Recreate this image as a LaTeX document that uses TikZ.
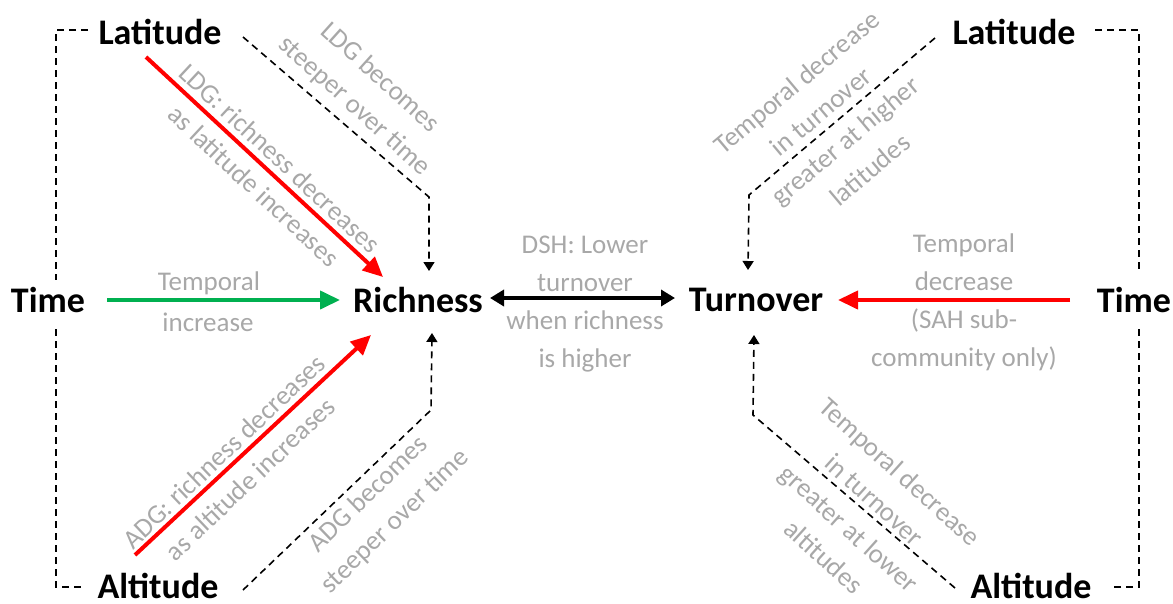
\documentclass[tikz,border=0pt]{standalone}
\usepackage{fontspec}
\setmainfont{Carlito}
\usetikzlibrary{arrows.meta}
\definecolor{lblgray}{RGB}{168,168,168}
\definecolor{arrred}{RGB}{255,0,0}
\definecolor{arrgreen}{RGB}{0,176,80}
\begin{document}
\begin{tikzpicture}[x=1pt,y=-1pt,
  lbl/.style={font=\fontsize{36}{40}\selectfont\bfseries, inner sep=0pt},
  note/.style={font=\fontsize{27}{38}\selectfont, text=lblgray, align=center, inner sep=0pt},
  redarr/.style={draw=arrred, line width=4pt, -{Triangle[length=20pt,width=18pt]}},
  greenarr/.style={draw=arrgreen, line width=4pt, -{Triangle[length=20pt,width=18pt]}},
  dblarr/.style={draw=black, line width=3.5pt, {Triangle[length=14pt,width=16pt]}-{Triangle[length=14pt,width=16pt]}},
  dasharr/.style={draw=black, line width=1.6pt, dash pattern=on 7pt off 5pt, -{Triangle[length=9pt,width=11pt]}},
  dashbr/.style={draw=black, line width=1.6pt, dash pattern=on 7pt off 5pt}
]
\useasboundingbox (0,0) rectangle (1173,603);

% main labels
\node[lbl] (latL) at (160,32) {Latitude};
\node[lbl] (timeL) at (48,300) {Time};
\node[lbl] (altL) at (158,586) {Altitude};
\node[lbl] (rich) at (418,300) {Richness};
\node[lbl] (turn) at (756,300) {Turnover};
\node[lbl] (latR) at (1014,32) {Latitude};
\node[lbl] (timeR) at (1134,300) {Time};
\node[lbl] (altR) at (1031,586) {Altitude};

% connector ends
\coordinate (lr1) at (146,57);   \coordinate (lr2) at (383,277);
\coordinate (ar1) at (135,555);  \coordinate (ar2) at (371,335);
\coordinate (tg1) at (107,300);  \coordinate (tg2) at (340,300);
\coordinate (tr1) at (1070,300); \coordinate (tr2) at (838,300);
\coordinate (d1) at (490,298);   \coordinate (d2) at (675,298);

\coordinate (la1) at (243,37);  \coordinate (la2) at (429,197); \coordinate (la3) at (429,271);
\coordinate (aa1) at (243,590); \coordinate (aa2) at (431,410); \coordinate (aa3) at (432,333);
\coordinate (lb1) at (935,38);  \coordinate (lb2) at (749,195); \coordinate (lb3) at (748,270);
\coordinate (ab1) at (955,588); \coordinate (ab2) at (753,415); \coordinate (ab3) at (754,335);

\coordinate (bl1) at (88,30);   \coordinate (bl2) at (56,30);  \coordinate (bl3) at (56,280);
\coordinate (bl4) at (56,329);  \coordinate (bl5) at (56,587); \coordinate (bl6) at (84,587);
\coordinate (br1) at (1095,30); \coordinate (br2) at (1139,30); \coordinate (br3) at (1139,272);
\coordinate (br4) at (1139,329);\coordinate (br5) at (1139,587);\coordinate (br6) at (1110,587);

% arrows
\draw[redarr] (lr1) -- (lr2);
\draw[redarr] (ar1) -- (ar2);
\draw[greenarr] (tg1) -- (tg2);
\draw[redarr] (tr1) -- (tr2);
\draw[dblarr] (d1) -- (d2);

\draw[dasharr] (la1) -- (la2) -- (la3);
\draw[dasharr] (aa1) -- (aa2) -- (aa3);
\draw[dasharr] (lb1) -- (lb2) -- (lb3);
\draw[dasharr] (ab1) -- (ab2) -- (ab3);

\draw[dashbr] (bl1) -- (bl2) -- (bl3);
\draw[dashbr] (bl4) -- (bl5) -- (bl6);
\draw[dashbr] (br1) -- (br2) -- (br3);
\draw[dashbr] (br4) -- (br5) -- (br6);

% annotations
\node[note] (t1) at (209,283) {Temporal};
\node[note] (t2) at (208,322) {increase};
\node[note] (t3) at (964,262) {Temporal\\decrease};
\node[note] (t4) at (964,340) {(SAH sub-\\community only)};
\node[note] (t5) at (585,264) {DSH: Lower\\turnover};
\node[note] (t6) at (585,341) {when richness\\is higher};

\node[note, rotate=-43] (n1) at (267,172) {LDG: richness decreases\\as latitude increases};
\node[note, rotate=-42] (n2) at (367,92) {LDG becomes\\steeper over time};
\node[note, rotate=43.5] (n3) at (237,465) {ADG: richness decreases\\as altitude increases};
\node[note, rotate=44] (n4) at (382,508) {ADG becomes\\steeper over time};
\node[note, rotate=40] (n5) at (833,126) {Temporal decrease\\in turnover\\greater at higher\\latitudes};
\node[note, rotate=-42] (n6) at (862,514) {Temporal decrease\\in turnover\\greater at lower\\altitudes};
\end{tikzpicture}
\end{document}
